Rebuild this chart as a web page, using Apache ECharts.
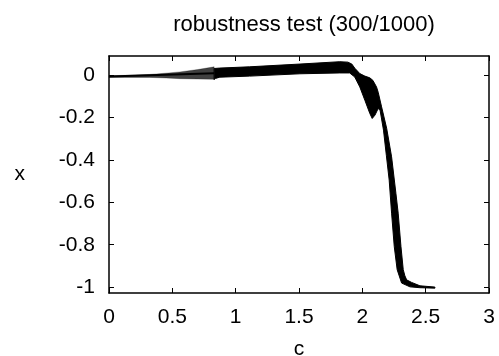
<!DOCTYPE html>
<html>
<head>
<meta charset="utf-8">
<script src="https://cdn.jsdelivr.net/npm/echarts@6/dist/echarts.min.js"></script>
<style>html,body{margin:0;padding:0;background:#fff}#c{width:499px;height:356px}</style>
</head>
<body>
<div id="c"></div>
<script>
// x-axis tick labels
var xTicks = [0, 0.5, 1, 1.5, 2, 2.5, 3];
// y-axis tick labels
var yTicks = [-1, -0.8, -0.6, -0.4, -0.2, 0];

// Thin oscillating (hatched) part of the band, c in [0, 0.83]
var hatchC     = [0, 0.15, 0.32, 0.45, 0.56, 0.70, 0.82, 0.83];
var hatchUpper = [-0.002, 0.000, 0.004, 0.010, 0.016, 0.027, 0.039, 0.040];
var hatchLower = [-0.010, -0.010, -0.010, -0.013, -0.016, -0.018, -0.019, -0.020];
// Centre trace of the hatched part
var centerC = [0, 0.83];
var centerX = [-0.006, 0.010];

// Solid band: upper / right boundary
var upperC = [0.83, 0.875, 1.11, 1.507, 1.822, 1.886, 1.917, 1.941, 1.98, 2.02, 2.059, 2.083, 2.112, 2.125, 2.152, 2.192, 2.231, 2.265, 2.283, 2.305, 2.323, 2.336, 2.35, 2.389, 2.455, 2.573];
var upperX = [0.032, 0.034, 0.040, 0.053, 0.064, 0.062, 0.053, 0.033, 0.008, -0.004, -0.012, -0.024, -0.055, -0.080, -0.149, -0.250, -0.385, -0.557, -0.651, -0.809, -0.918, -0.947, -0.966, -0.978, -0.994, -1.000];
// Solid band: lower / left boundary
var lowerC = [0.83, 0.84, 0.875, 1.11, 1.507, 1.822, 1.90, 1.94, 1.98, 2.02, 2.059, 2.078, 2.10, 2.125, 2.14, 2.167, 2.19, 2.212, 2.231, 2.252, 2.275, 2.31, 2.376, 2.455, 2.573];
var lowerX = [-0.020, -0.015, -0.009, -0.004, 0.007, 0.011, 0.011, -0.008, -0.055, -0.118, -0.180, -0.204, -0.188, -0.157, -0.165, -0.259, -0.380, -0.495, -0.651, -0.809, -0.918, -0.981, -0.999, -1.003, -1.005];

var FONT = '"Liberation Sans", Arial, Helvetica, sans-serif';
var chart = echarts.init(document.getElementById('c'), null, {renderer: 'canvas'});

function outline(api, cu, xu, cl, xl) {
  var pts = [];
  for (var i = 0; i < cu.length; i++) pts.push(api.coord([cu[i], xu[i]]));
  for (var j = cl.length - 1; j >= 0; j--) pts.push(api.coord([cl[j], xl[j]]));
  return pts;
}

var axisCommon = {
  axisLine: {show: true, onZero: false, lineStyle: {color: '#000', width: 1.5}},
  splitLine: {show: false}
};

chart.setOption({
  animation: false,
  backgroundColor: '#fff',
  title: {
    text: 'robustness test (300/1000)',
    left: 299, top: 9, textAlign: 'center',
    textStyle: {fontFamily: FONT, fontSize: 22, fontWeight: 'normal', color: '#000'}
  },
  grid: {left: 109, right: 10, top: 56, bottom: 63, containLabel: false, outerBoundsMode: 'none'},
  xAxis: [
    Object.assign({
      type: 'value', min: 0, max: 3, position: 'bottom',
      name: 'c', nameLocation: 'middle', nameGap: 46,
      nameTextStyle: {fontFamily: FONT, fontSize: 21, color: '#000'},
      axisTick: {show: true, inside: true, length: 5, customValues: xTicks, lineStyle: {color: '#000', width: 1}},
      axisLabel: {show: true, customValues: xTicks, margin: 14, fontFamily: FONT, fontSize: 21, color: '#000'}
    }, axisCommon),
    Object.assign({
      type: 'value', min: 0, max: 3, position: 'top',
      axisTick: {show: true, inside: true, length: 5, customValues: xTicks, lineStyle: {color: '#000', width: 1}},
      axisLabel: {show: false}
    }, axisCommon)
  ],
  yAxis: [
    Object.assign({
      type: 'value', min: -1.028, max: 0.091, position: 'left',
      name: 'x', nameLocation: 'middle', nameRotate: 0, nameGap: 84,
      nameTextStyle: {fontFamily: FONT, fontSize: 21, color: '#000'},
      axisTick: {show: true, inside: true, length: 5, customValues: yTicks, lineStyle: {color: '#000', width: 1}},
      axisLabel: {show: true, customValues: yTicks, margin: 14, fontFamily: FONT, fontSize: 21, color: '#000'}
    }, axisCommon),
    Object.assign({
      type: 'value', min: -1.028, max: 0.091, position: 'right',
      axisTick: {show: true, inside: true, length: 5, customValues: yTicks, lineStyle: {color: '#000', width: 1}},
      axisLabel: {show: false}
    }, axisCommon)
  ],
  series: [{
    type: 'custom',
    xAxisIndex: 0, yAxisIndex: 0,
    data: [[0, 0]],
    silent: true,
    renderItem: function (params, api) {
      var hatch = outline(api, hatchC, hatchUpper, hatchC, hatchLower);
      var band = outline(api, upperC, upperX, lowerC, lowerX);
      var centre = [];
      for (var i = 0; i < centerC.length; i++) centre.push(api.coord([centerC[i], centerX[i]]));
      return {
        type: 'group',
        children: [
          {type: 'polygon', shape: {points: hatch}, style: {fill: 'rgba(0,0,0,0.75)', stroke: 'rgba(0,0,0,0.5)', lineWidth: 0.5}},
          {type: 'polyline', shape: {points: centre}, style: {stroke: '#000', lineWidth: 2, fill: null}},
          {type: 'polygon', shape: {points: band}, style: {fill: '#000', stroke: '#000', lineWidth: 1}}
        ]
      };
    }
  }]
});
</script>
</body>
</html>
